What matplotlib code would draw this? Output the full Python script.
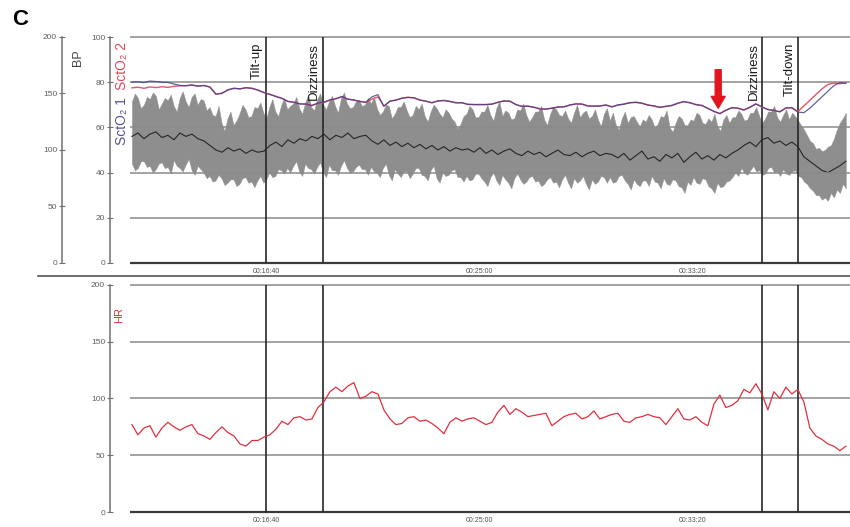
import numpy as np
import matplotlib.pyplot as plt
from matplotlib.ticker import FuncFormatter
from matplotlib.lines import Line2D

plt.rcParams['font.family'] = ['Liberation Sans', 'DejaVu Sans']

W, H = 850, 527

# Zeitbasis (s): Kurven ein Wert alle ~14 s, Blutdruckband alle ~7 s
t = np.linspace(686, 2358, 120)
t_band = np.linspace(686, 2358, 240)

# Blutdruck (Schlag-zu-Schlag), obere / untere Huellkurve
bp_high = [143, 150, 146, 137, 140, 147, 145, 151, 148, 136, 141, 146, 144, 149, 139, 134,
           146, 152, 143, 138, 147, 150, 140, 145, 144, 135,
           138, 131, 130, 139, 124, 117, 128, 134, 122, 126, 132, 140, 136, 129, 130, 138,
           137, 142, 133, 128,
           138, 145, 134, 130, 140, 146, 136, 139, 141, 147, 137, 132,
           142, 149, 138, 135, 145, 150, 140, 136, 143, 148, 139, 133, 146, 151, 141, 137,
           138, 143, 144, 139, 140, 146,
           141, 147, 137, 131, 134, 140, 139, 128, 132, 138, 138, 143, 135, 129, 131, 139,
           136, 141, 130, 125, 134, 140, 137, 132, 129, 136, 133, 128, 125, 119, 123, 130,
           132, 139, 136, 129, 129, 134, 134, 140, 131, 126, 137, 143, 130, 135, 133, 127,
           128, 136, 135, 141, 131, 125, 129, 134, 134, 139, 127, 122, 132, 138, 136, 131,
           130, 135, 128, 124, 133, 140, 129, 133, 135, 128, 130, 136, 127, 121, 132, 137,
           126, 133, 122, 118, 128, 134, 124, 129, 130, 125, 121, 127, 125, 131, 127, 120,
           123, 130, 129, 135, 120, 116, 124, 130, 128, 122, 122, 127, 126, 133, 131, 124,
           123, 128, 125, 132, 121, 117, 127, 131, 124, 129,
           129, 135, 132, 126, 127, 133, 133, 138, 130, 124, 128, 134, 134, 139, 129, 125,
           131, 136, 127, 133, 130, 126,
           122, 118, 113, 108, 106, 101, 102, 99, 100, 103, 104, 110, 118, 124, 128, 133]
bp_low = [88, 82, 84, 90, 90, 85, 86, 80, 83, 88, 89, 84, 85, 79, 91, 86, 84, 81, 87, 92,
          82, 78, 86, 83, 80, 75,
          77, 72, 73, 78, 75, 69, 71, 74, 74, 68, 70, 75, 76, 71, 72, 67, 73, 77, 71, 74,
          80, 76, 77, 83, 82, 79,
          84, 80, 86, 90, 81, 77, 88, 84, 83, 79, 85, 89, 80, 76, 87, 82, 82, 78, 86, 91,
          84, 80, 81, 85, 87, 83, 83, 78,
          85, 81, 80, 76, 84, 88, 78, 73, 83, 79, 76, 81, 81, 75, 79, 84, 84, 78, 77, 73,
          82, 86, 75, 71, 80, 77, 78, 82, 83, 76, 76, 72,
          77, 73, 74, 79, 79, 75, 72, 68, 76, 80, 73, 69, 78, 74, 71, 66, 75, 79, 74, 70,
          72, 76, 77, 72, 73, 68, 70, 74, 76, 71, 72, 67, 74, 78, 71, 66, 75, 71, 73, 77,
          70, 65, 74, 70, 72, 77, 76, 71,
          76, 71, 72, 77, 78, 73, 70, 65, 74, 70, 68, 73, 73, 68, 77, 72, 71, 66, 75, 70,
          69, 74, 73, 68, 67, 62, 72, 69, 76, 71, 70, 75, 74, 68, 66, 62, 71, 67, 68, 72,
          73, 76,
          80, 77, 84, 80, 78, 82, 86, 81, 82, 78, 79, 84, 85, 80, 81, 77, 83, 79, 78, 81,
          82, 77,
          76, 72, 70, 66, 64, 60, 60, 56, 58, 55, 62, 58, 65, 62, 70, 66]
# Blutdruck-Mittelwert
bp_mean = [112, 115, 110, 114, 116, 111, 113, 109, 115, 112, 114, 110, 108,
           104, 100, 98, 102, 99, 101, 97, 100, 98, 99,
           104, 107, 103, 109, 106, 110,
           108, 112, 110, 114, 109, 113, 111, 115, 110, 112, 113,
           108, 105, 109, 104, 107, 103, 106, 102, 105, 101, 104, 100, 103, 99, 102, 100,
           101, 98, 102, 97, 100, 96, 99, 101, 97, 95, 99, 96, 98, 94, 97, 100, 96, 95, 98, 94,
           97, 99, 95, 97,
           96, 93, 97, 91, 95, 99, 92, 94, 90, 96, 93, 97, 89, 94, 98, 92, 95, 91, 96, 93, 97,
           100, 104, 107, 103, 109, 111, 106, 108, 104, 107, 103,
           94, 90, 86, 82, 80, 83, 86, 90]

# Gewebesaettigung SctO2 (%)
scto2_2 = [77.5, 77.8, 77.3, 77.9, 77.6, 78.0, 77.7, 78.2,
           78.4, 78.5, 78.7, 78.2, 78.6, 77.8,
           74.6, 75.2, 76.5, 77.4, 77.0, 77.5, 77.4, 76.4, 75.5, 74.5, 73.8, 72.8, 71.6,
           71.0, 70.5, 70.2, 69.8, 70.6, 71.0, 72.0, 72.8, 73.5, 72.6, 72.0, 71.6, 71.0,
           72.5, 73.5, 69.5, 71.5, 72.2, 72.8, 73.4, 73.0, 72.2, 71.5,
           71.0, 71.6, 72.0, 71.4, 71.0, 70.8, 70.3, 70.0, 70.2, 70.0,
           70.4, 71.0, 71.8, 71.5, 70.2, 69.2, 69.5, 68.8, 68.3, 68.0,
           68.6, 68.9, 69.2, 69.8, 70.5, 70.2, 69.6, 69.3, 69.6, 69.8,
           69.2, 69.8, 70.4, 70.8, 71.2, 70.6, 70.0, 69.4, 69.0, 69.2,
           69.8, 70.6, 71.5, 70.8, 70.2, 69.6, 68.5, 67.0, 66.2, 67.5,
           68.8, 68.4, 67.8, 68.8, 70.5, 69.0, 68.0, 67.4, 67.0, 68.5,
           68.8, 67.0,
           69.5, 72.0, 74.5, 77.0, 79.0, 79.6, 79.3, 79.8]
scto2_1 = [80.0, 80.2, 79.8, 80.5, 80.3, 80.0, 79.9, 79.2,
           78.6, 78.4, 78.8, 78.3, 78.5, 77.9,
           74.8, 75.0, 76.7, 77.2, 77.1, 77.6, 77.2, 76.6, 75.3, 74.7, 73.6, 72.9, 71.4,
           71.2, 70.3, 70.4, 69.6, 70.8, 71.2, 72.2, 72.6, 73.7, 72.4, 72.2, 71.4, 71.2,
           73.5, 74.5, 69.3, 71.7, 72.0, 73.0, 73.2, 73.2, 72.0, 71.7,
           70.8, 71.8, 71.8, 71.6, 70.8, 71.0, 70.1, 70.2, 70.0, 70.2,
           70.2, 71.2, 71.6, 71.7, 70.0, 69.4, 69.3, 69.0, 68.1, 68.2,
           68.4, 69.1, 69.0, 70.0, 70.3, 70.4, 69.4, 69.5, 69.4, 70.0,
           69.0, 70.0, 70.2, 71.0, 71.0, 70.8, 69.8, 69.6, 68.8, 69.4,
           69.6, 70.8, 71.3, 71.0, 70.0, 69.8, 68.3, 67.2, 66.0, 67.7,
           68.6, 68.6, 67.6, 69.0, 70.3, 69.2, 67.8, 67.6, 66.8, 68.7,
           68.6, 66.8,
           66.5, 68.5, 71.0, 73.5, 76.0, 78.5, 79.8, 79.5]

# Herzfrequenz (1/min)
hr = [77, 68, 74, 76, 66, 74, 79, 75, 72, 75,
      77, 69, 67, 64, 70, 75, 70, 67, 60, 58,
      63, 63, 66, 68, 73, 80, 77, 83, 84, 81,
      82, 92, 97, 106, 110, 106, 111, 114, 100, 102,
      106, 104, 90, 82, 77, 78, 83, 84, 80, 81,
      78, 74, 69, 79, 83, 80, 82, 83, 80, 77,
      79, 88, 94, 86, 91, 88, 84, 85, 86, 87,
      76, 80, 84, 86, 87, 82, 84, 89, 82, 84,
      86, 87, 80, 79, 83, 84, 86, 84, 83, 77,
      84, 91, 82, 81, 84, 79, 76, 95, 103, 92,
      94, 98, 108, 105, 113, 104, 90, 106, 100, 110,
      104, 108, 97, 74, 67, 64, 60, 58, 54, 58]

# Ereignisse
events = [1000, 1133, 2162, 2246]
event_labels = ['Tilt-up', 'Dizziness', 'Dizziness', 'Tilt-down']
arrow_t, arrow_from, arrow_to = 2059, 85.5, 68.5

t_lim = (681.5, 2367.7)
xticks = [1000, 1500, 2000]

GRID = '#8a8a8a'
RED = '#e0303f'


def hms(s, pos=None):
    s = int(round(s))
    return '%02d:%02d:%02d' % (s // 3600, s % 3600 // 60, s % 60)


def stil(ax, off_px, lo, hi, ticks):
    for s in ['top', 'right', 'bottom']:
        ax.spines[s].set_visible(False)
    sp = ax.spines['left']
    sp.set_position(('outward', off_px * 0.72))
    sp.set_bounds(lo, hi)
    sp.set_color('#707070')
    sp.set_linewidth(1.1)
    ax.set_yticks(ticks)
    ax.tick_params(axis='y', direction='inout', length=5, width=0.8,
                   colors='#707070', labelsize=6, labelcolor='#606060', pad=1)
    ax.set_facecolor('none')


fig = plt.figure(figsize=(8.5, 5.27), dpi=100)

# ---------------- oberes Feld ----------------
pos_top = [130 / W, 1 - 265 / H, 720 / W, 232 / H]
ax_bp = fig.add_axes(pos_top)
ax_s = fig.add_axes(pos_top, sharex=ax_bp)

ax_bp.fill_between(t_band, bp_low, bp_high, color='#8e8e8e', lw=0.3, edgecolor='#8e8e8e')
ax_bp.plot(t, bp_mean, color='#262626', lw=0.8)
ax_bp.set_ylim(-1.77, 203.5)
stil(ax_bp, 68, 0, 200, [0, 50, 100, 150, 200])
ax_bp.tick_params(axis='x', labelbottom=False, length=0)

ax_s.set_ylim(-0.885, 101.77)
stil(ax_s, 20, 0, 100, [0, 20, 40, 60, 80, 100])
for v in [20, 40, 60, 80, 100]:
    ax_s.axhline(v, color=GRID, lw=1.1, zorder=1)
ax_s.axhline(0, color='#3a3a3a', lw=1.6, zorder=1)
ax_s.vlines(events, 0, 100, color='#262626', lw=1.2, zorder=2)
ax_s.plot(t, scto2_2, color='#e2566a', lw=1.0, zorder=3)
ax_s.plot(t, scto2_1, color='#3a3a8c', lw=0.9, zorder=3, alpha=0.8)
for e, lab in zip(events, event_labels):
    ax_s.annotate(lab, xy=(e, 97.5), xytext=(-2, 0), textcoords='offset points',
                  rotation=90, ha='right', va='top', fontsize=9.5, color='#1a1a1a')
ax_s.annotate('', xy=(arrow_t, arrow_to), xytext=(arrow_t, arrow_from),
              arrowprops=dict(facecolor='#e3141c', edgecolor='#e3141c',
                              width=4.3, headwidth=10, headlength=8.5, shrink=0))

ax_s.set_xlim(t_lim)
ax_s.set_xticks(xticks)
ax_s.xaxis.set_major_formatter(FuncFormatter(hms))
ax_s.tick_params(axis='x', length=0, pad=2, labelsize=5, labelcolor='#505050')

# ---------------- unteres Feld ----------------
ax_hr = fig.add_axes([130 / W, 1 - 514 / H, 720 / W, 233 / H], sharex=ax_bp)
ax_hr.set_ylim(-1.76, 203.5)
stil(ax_hr, 20, 0, 200, [0, 50, 100, 150, 200])
for v in [50, 100, 150, 200]:
    ax_hr.axhline(v, color=GRID, lw=1.1, zorder=1)
ax_hr.axhline(0, color='#3a3a3a', lw=1.6, zorder=1)
ax_hr.vlines(events, 0, 200, color='#262626', lw=1.2, zorder=2)
ax_hr.plot(t, hr, color=RED, lw=0.9, zorder=3)
ax_hr.set_xticks(xticks)
ax_hr.tick_params(axis='x', length=0, pad=2, labelsize=5, labelcolor='#505050')

# Beschriftungen
fig.text(12 / W, 1 - 9 / H, 'C', fontsize=16, fontweight='bold', ha='left', va='top')
fig.text(78 / W, 1 - 58 / H, 'BP', rotation=90, ha='center', va='center',
         fontsize=9, color='#444444')
fig.text(122 / W, 1 - 66 / H, 'SctO₂ 2', rotation=90, ha='center', va='center',
         fontsize=10, color='#e04a5a')
fig.text(122 / W, 1 - 121 / H, 'SctO₂ 1', rotation=90, ha='center', va='center',
         fontsize=10, color='#55559a')
fig.text(119 / W, 1 - 315 / H, 'HR', rotation=90, ha='center', va='center',
         fontsize=8, color=RED)
fig.add_artist(Line2D([38 / W, 1], [1 - 276 / H, 1 - 276 / H], color='#555555', lw=1.2))

fig.savefig('out.png', dpi=100)
